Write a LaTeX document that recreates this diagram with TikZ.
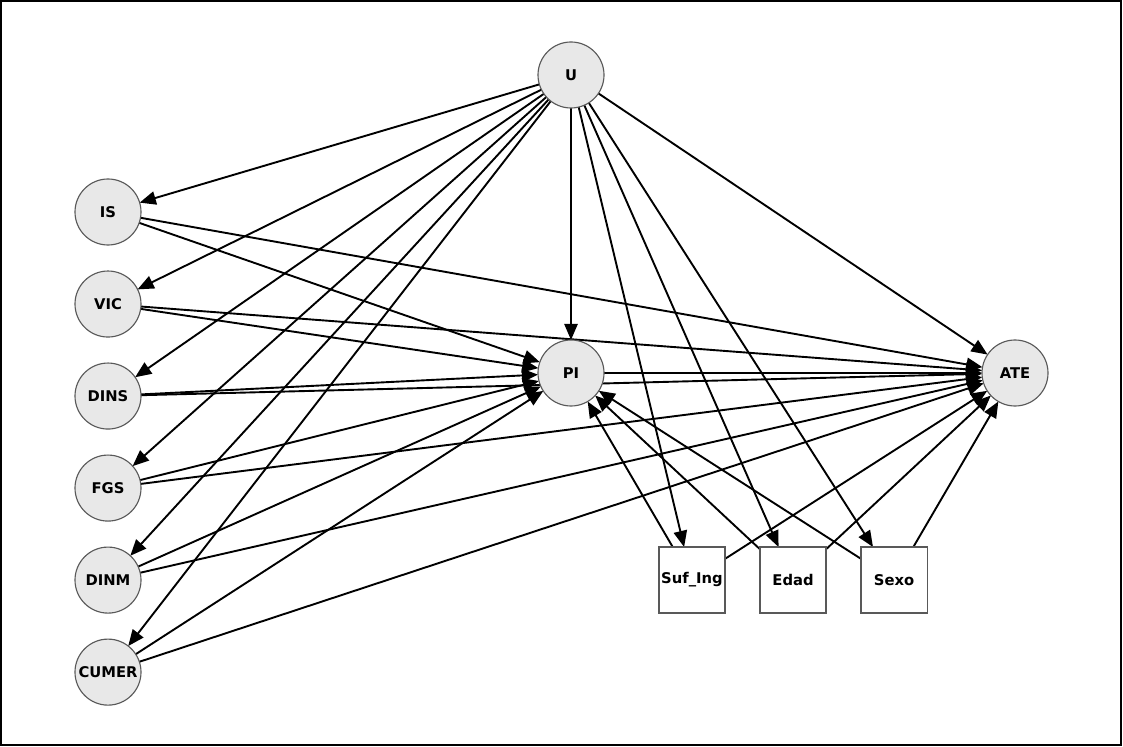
\documentclass[tikz,border=0pt]{standalone}
\usepackage{fontspec}
\setsansfont{DejaVu Sans}
\usetikzlibrary{positioning,arrows.meta}

\pgfdeclarelayer{bg}
\pgfsetlayers{bg,main}

\tikzset{
	var/.style={circle,draw=black!65,fill=black!9,line width=0.8pt,minimum size=1.65cm,inner sep=0pt,outer sep=0pt,
		font=\sffamily\bfseries\fontsize{10.5}{12}\selectfont},
	obs/.style={rectangle,draw=black!65,fill=white,line width=0.8pt,minimum size=1.65cm,inner sep=0pt,outer sep=0pt,
		font=\sffamily\bfseries\fontsize{10.5}{12}\selectfont},
	arr/.style={line width=1.35pt,-{Triangle[length=11.5pt,width=9.5pt]}},
}

\begin{document}
\begin{tikzpicture}[x=0.025cm,y=-0.025cm]
		\useasboundingbox (0,0) rectangle (1123,747);
		\draw[line width=1.4pt] (1,1) rectangle (1121,745);
		%
		\node[var] (U) at (571,75) {U};
		\node[var] (PI) at (571,373) {PI};
		\node[var] (ATE) at (1015,373) {ATE};
		\node[var] (IS) at (108,212) {IS};
		\node[var,below=0.65cm of IS] (VIC) {VIC};
		\node[var,below=0.65cm of VIC] (DINS) {DINS};
		\node[var,below=0.65cm of DINS] (FGS) {FGS};
		\node[var,below=0.65cm of FGS] (DINM) {DINM};
		\node[var,below=0.65cm of DINM] (CUMER) {CUMER};
		\node[obs] (SUF) at (692,580) {Suf\_Ing};
		\node[obs,right=0.875cm of SUF] (EDAD) {Edad};
		\node[obs,right=0.875cm of EDAD] (SEXO) {Sexo};
		%
		\begin{pgfonlayer}{bg}
			\foreach \v in {IS,VIC,DINS,FGS,DINM,CUMER,PI,ATE,SUF,EDAD,SEXO}
				\draw[arr] (U) -- (\v);
			\foreach \v in {IS,VIC,DINS,FGS,DINM,CUMER,SUF,EDAD,SEXO} {
				\draw[arr] (\v) -- (PI);
				\draw[arr] (\v) -- (ATE);
			}
			\draw[arr] (PI) -- (ATE);
		\end{pgfonlayer}
	\end{tikzpicture}
\end{document}
